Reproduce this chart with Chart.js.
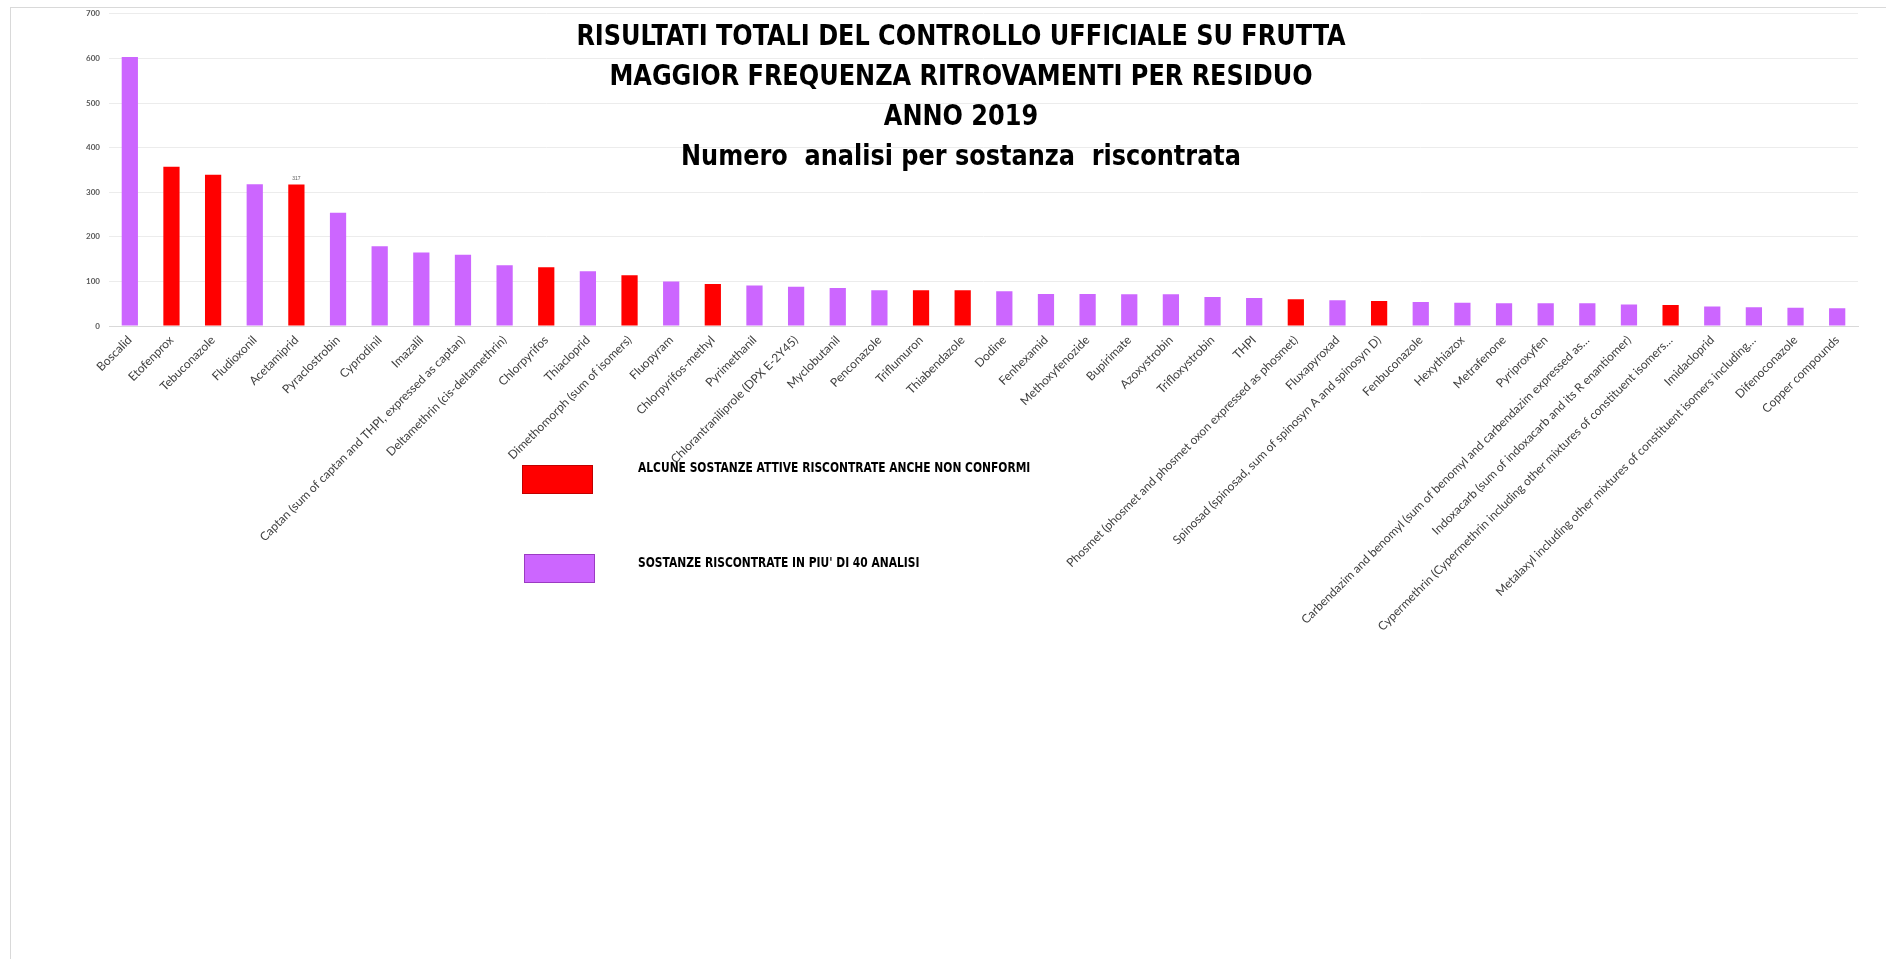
<!DOCTYPE html>
<html>
<head>
<meta charset="utf-8">
<script src="https://cdn.jsdelivr.net/npm/chart.js@4.4.1/dist/chart.umd.min.js"></script>
<style>
body { margin: 0; background: #fff; overflow: hidden; }
#frame { position: absolute; left: 10px; top: 7px; width: 1900px; height: 1000px; border: 1px solid #d9d9d9; }
#wrap { position: absolute; left: 0; top: 0; width: 1886px; height: 959px; }
</style>
</head>
<body>
<div id="frame"></div>
<div id="wrap"><canvas id="chart"></canvas></div>
<script>
// residues found most often
var categories = [
	"Boscalid", "Etofenprox", "Tebuconazole", "Fludioxonil", "Acetamiprid", "Pyraclostrobin",
	"Cyprodinil", "Imazalil", "Captan (sum of captan and THPI, expressed as captan)",
	"Deltamethrin (cis-deltamethrin)", "Chlorpyrifos", "Thiacloprid", "Dimethomorph (sum of isomers)",
	"Fluopyram", "Chlorpyrifos-methyl", "Pyrimethanil", "Chlorantraniliprole (DPX E-2Y45)",
	"Myclobutanil", "Penconazole", "Triflumuron", "Thiabendazole", "Dodine", "Fenhexamid",
	"Methoxyfenozide", "Bupirimate", "Azoxystrobin", "Trifloxystrobin", "THPI",
	"Phosmet (phosmet and phosmet oxon expressed as phosmet)", "Fluxapyroxad",
	"Spinosad (spinosad, sum of spinosyn A and spinosyn D)", "Fenbuconazole", "Hexythiazox",
	"Metrafenone", "Pyriproxyfen",
	"Carbendazim and benomyl (sum of benomyl and carbendazim expressed as\u2026",
	"Indoxacarb (sum of indoxacarb and its R enantiomer)",
	"Cypermethrin (Cypermethrin including other mixtures of constituent isomers\u2026",
	"Imidacloprid", "Metalaxyl including other mixtures of constituent isomers including\u2026",
	"Difenoconazole", "Copper compounds"
];
var counts = [603, 357, 339, 318, 317, 254, 179, 165, 160, 136, 132, 123, 114, 100, 94, 91, 88, 85, 80, 80,
	80, 78, 72, 72, 71, 71, 65, 63, 60, 58, 56, 54, 52, 51, 51, 51, 48, 47, 44, 42, 41, 40];
// substances that were also found non compliant (red bars)
var nonConformi = ["Etofenprox", "Tebuconazole", "Acetamiprid", "Chlorpyrifos", "Dimethomorph (sum of isomers)",
	"Chlorpyrifos-methyl", "Triflumuron", "Thiabendazole", "Phosmet (phosmet and phosmet oxon expressed as phosmet)",
	"Spinosad (spinosad, sum of spinosyn A and spinosyn D)",
	"Cypermethrin (Cypermethrin including other mixtures of constituent isomers\u2026"];
// only one bar has its value printed
var labelledBars = ["Acetamiprid"];

var titleLines = [
	"RISULTATI TOTALI DEL CONTROLLO UFFICIALE SU FRUTTA",
	"MAGGIOR FREQUENZA RITROVAMENTI PER RESIDUO",
	"ANNO 2019",
	"Numero  analisi per sostanza  riscontrata"
];
var legendLabels = ["ALCUNE SOSTANZE ATTIVE RISCONTRATE ANCHE NON CONFORMI", "SOSTANZE RISCONTRATE IN PIU' DI 40 ANALISI"];

var RED = "#ff0000", PURPLE = "#cc66ff";
var legendColors = [RED, PURPLE];
var barColors = categories.map(function(c) { return nonConformi.indexOf(c) >= 0 ? RED : PURPLE; });

var narrow = "'Liberation Sans Narrow', 'DejaVu Sans Condensed', Arial, sans-serif";

// text squeezed sideways a bit, calibri is narrower than what we have here
function squeezedText(ctx, text, x, y, sx) {
	ctx.save();
	ctx.translate(x, y);
	ctx.scale(sx, 1);
	ctx.fillText(text, 0, 0);
	ctx.restore();
}

// big title sitting over the plot
var titlePlugin = {
	id: "titleLines",
	afterDraw: function(chart) {
		var ctx = chart.ctx;
		ctx.save();
		ctx.fillStyle = "#000";
		ctx.textAlign = "center";
		ctx.textBaseline = "middle";
		ctx.font = "bold 29px " + narrow;
		for (var i = 0; i < titleLines.length; i++) {
			squeezedText(ctx, titleLines[i], 961, 37 + i * 40, 0.92);
		}
		ctx.restore();
	}
};

// hand drawn legend in the middle of the page, like the excel one
var legendPlugin = {
	id: "boxLegend",
	afterDraw: function(chart) {
		var ctx = chart.ctx;
		ctx.save();
		var boxTop = [465, 554], textY = [468, 563];
		for (var i = 0; i < legendLabels.length; i++) {
			ctx.fillStyle = legendColors[i];
			ctx.fillRect(522 + i * 2, boxTop[i], 71, 29);
			ctx.strokeStyle = i == 0 ? "#c00000" : "#9b3bc2";
			ctx.lineWidth = 1;
			ctx.strokeRect(522.5 + i * 2, boxTop[i] + 0.5, 70, 28);
			ctx.fillStyle = "#000";
			ctx.font = "bold 14px " + narrow;
			ctx.textAlign = "left";
			ctx.textBaseline = "middle";
			squeezedText(ctx, legendLabels[i], 638, textY[i], 0.85);
		}
		ctx.restore();
	}
};

var valuePlugin = {
	id: "valueLabels",
	afterDatasetsDraw: function(chart) {
		var ctx = chart.ctx;
		var meta = chart.getDatasetMeta(0);
		ctx.save();
		ctx.fillStyle = "#595959";
		ctx.font = "5px Arial";
		ctx.textAlign = "center";
		ctx.textBaseline = "bottom";
		for (var i = 0; i < categories.length; i++) {
			if (labelledBars.indexOf(categories[i]) < 0) continue;
			var bar = meta.data[i];
			ctx.fillText(String(counts[i]), bar.x, bar.y - 3);
		}
		ctx.restore();
	}
};

new Chart(document.getElementById("chart"), {
	type: "bar",
	data: {
		labels: categories,
		datasets: [{
			data: counts,
			backgroundColor: barColors,
			borderWidth: 0,
			barPercentage: 0.39,
			categoryPercentage: 1
		}]
	},
	options: {
		responsive: true,
		maintainAspectRatio: false,
		animation: false,
		layout: { padding: { left: 11, right: 28, top: 8, bottom: 0 } },
		plugins: {
			legend: { display: false },
			tooltip: { enabled: false }
		},
		scales: {
			x: {
				grid: { display: false, drawTicks: false },
				border: { display: true, color: "#d9d9d9", width: 1 },
				ticks: {
					autoSkip: false,
					maxRotation: 45,
					minRotation: 45,
					padding: 7,
					color: "#404040",
					font: { family: "Lato, 'Open Sans', sans-serif", size: 12 }
				},
				afterFit: function(scale) { scale.height = 633; }
			},
			y: {
				min: 0,
				max: 700,
				ticks: {
					stepSize: 100,
					padding: 9,
					color: "#595959",
					font: { family: "Lato, Arial, sans-serif", size: 8, weight: "bold" }
				},
				grid: { color: "#ececec", drawTicks: false },
				border: { display: false },
				afterFit: function(scale) { scale.width = 98; }
			}
		}
	},
	plugins: [titlePlugin, legendPlugin, valuePlugin]
});
</script>
</body>
</html>
